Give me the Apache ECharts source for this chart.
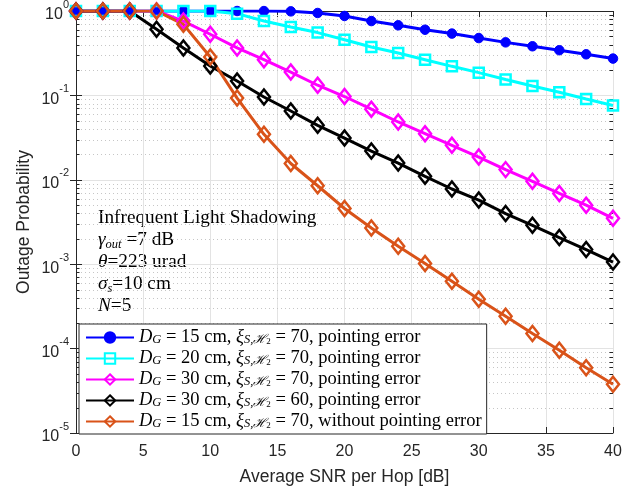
<!DOCTYPE html>
<html>
<head>
<meta charset="utf-8">
<script src="https://cdn.jsdelivr.net/npm/echarts@6/dist/echarts.min.js"></script>
<style>
  html, body { margin: 0; padding: 0; background: #fff; }
  #chart { width: 644px; height: 492px; }
</style>
</head>
<body>
<div id="chart"></div>
<script>
// average SNR per hop [dB]
const snr = [0, 2, 4, 6, 8, 10, 12, 14, 16, 18, 20, 22, 24, 26, 28, 30, 32, 34, 36, 38, 40];

// outage probability
const dg15pe = [1, 1, 1, 1, 1, 1, 1, 0.998, 0.99, 0.947, 0.873, 0.76, 0.677, 0.60, 0.54, 0.478, 0.425, 0.382, 0.343, 0.307, 0.273];
const dg20pe = [1, 1, 1, 1, 1, 1, 0.93, 0.76, 0.645, 0.555, 0.457, 0.375, 0.318, 0.265, 0.221, 0.186, 0.154, 0.129, 0.109, 0.0906, 0.0758];
const dg30pe = [1, 1, 1, 1, 0.76, 0.53, 0.365, 0.265, 0.189, 0.132, 0.097, 0.0686, 0.0484, 0.0352, 0.0256, 0.0186, 0.0132, 0.0096, 0.0069, 0.0050, 0.0035];
const dg30xi60 = [1, 1, 1, 0.607, 0.365, 0.223, 0.148, 0.0958, 0.0653, 0.0442, 0.0312, 0.0219, 0.0158, 0.011, 0.00778, 0.00575, 0.00398, 0.00289, 0.00207, 0.00149, 0.00106];
const dg15nope = [1, 1, 1, 1, 0.695, 0.285, 0.093, 0.0346, 0.0156, 0.0085, 0.00457, 0.00268, 0.00163, 0.00102, 0.000627, 0.000385, 0.000242, 0.000151, 0.0000955, 0.0000593, 0.0000378];

// log axis minor ticks: 2..9 in every decade
const decades = [1e-5, 1e-4, 1e-3, 1e-2, 1e-1];
const minorSteps = [2, 3, 4, 5, 6, 7, 8, 9];

const legendLabels = [
  '{i|D}{sub|G} = 15 cm, {i|ξ}{sub|S,ℋ}{subsub|2} = 70, pointing error',
  '{i|D}{sub|G} = 20 cm, {i|ξ}{sub|S,ℋ}{subsub|2} = 70, pointing error',
  '{i|D}{sub|G} = 30 cm, {i|ξ}{sub|S,ℋ}{subsub|2} = 70, pointing error',
  '{i|D}{sub|G} = 30 cm, {i|ξ}{sub|S,ℋ}{subsub|2} = 60, pointing error',
  '{i|D}{sub|G} = 15 cm, {i|ξ}{sub|S,ℋ}{subsub|2} = 70, without pointing error'
];
const noteLines = [
  'Infrequent Light Shadowing',
  '{i|γ}{sub|out} =7 dB',
  '{i|θ}=223 urad',
  '{i|σ}{sub|s}=10 cm',
  '{i|N}=5'
];

const serif = 'Liberation Serif';
const sans = 'Liberation Sans';
const axisColor = '#262626';

function mkSeries(idx, data, color, symbol, size, filled) {
  return {
    name: 's' + idx,
    type: 'line',
    data: snr.map((x, i) => [x, data[i]]),
    symbol: symbol,
    symbolSize: size,
    showSymbol: true,
    z: 3,
    lineStyle: { color: color, width: 3 },
    itemStyle: filled
      ? { color: color, borderColor: color, borderWidth: 1 }
      : { color: 'rgba(255,255,255,0)', borderColor: color, borderWidth: 2.5 },
    emphasis: { disabled: true },
    animation: false
  };
}

const minorVals = [];
decades.forEach(d => minorSteps.forEach(m => minorVals.push(m * d)));

const richLegend = {
  i: { fontFamily: serif, fontSize: 18.5, fontStyle: 'italic', color: '#000' },
  sub: { fontFamily: serif, fontSize: 12.5, fontStyle: 'italic', color: '#000', verticalAlign: 'bottom', lineHeight: 12 },
  subsub: { fontFamily: serif, fontSize: 9, color: '#000', verticalAlign: 'bottom', lineHeight: 8 }
};

const chart = echarts.init(document.getElementById('chart'));

const logAxisBase = {
  type: 'log',
  logBase: 10,
  min: 1e-5,
  max: 1,
  splitNumber: 5,
  axisLine: { show: true, lineStyle: { color: axisColor, width: 1 } },
  axisTick: { show: true, inside: true, length: 6, lineStyle: { color: axisColor } }
};

chart.setOption({
  backgroundColor: '#fff',
  animation: false,
  grid: { left: 76, right: 31, top: 11, bottom: 59, show: false, outerBoundsMode: 'none' },
  xAxis: [{
    type: 'value',
    min: 0,
    max: 40,
    interval: 5,
    name: 'Average SNR per Hop [dB]',
    nameLocation: 'middle',
    nameGap: 35,
    nameTextStyle: { fontFamily: sans, fontSize: 17.5, color: axisColor },
    axisLine: { show: true, onZero: false, lineStyle: { color: axisColor, width: 1 } },
    axisTick: { show: true, inside: true, length: 6, lineStyle: { color: axisColor } },
    axisLabel: { fontFamily: sans, fontSize: 16, color: axisColor, margin: 11 },
    splitLine: { show: true, lineStyle: { color: '#e3e3e3', width: 1 } }
  }, {
    type: 'value',
    position: 'top',
    min: 0,
    max: 40,
    interval: 5,
    axisLine: { show: true, onZero: false, lineStyle: { color: axisColor, width: 1 } },
    axisTick: { show: true, inside: true, length: 6, lineStyle: { color: axisColor } },
    axisLabel: { show: false },
    splitLine: { show: false }
  }],
  yAxis: [Object.assign({}, logAxisBase, {
    position: 'left',
    name: 'Outage Probability',
    nameLocation: 'middle',
    nameGap: 43,
    nameMoveOverlap: false,
    nameTextStyle: { fontFamily: sans, fontSize: 17.5, color: axisColor },
    axisLabel: {
      fontFamily: sans,
      fontSize: 16,
      color: axisColor,
      margin: 7,
      formatter: function (v) {
        return '{b|10}{s|' + Math.round(Math.log10(v)) + '}';
      },
      rich: {
        b: { fontFamily: sans, fontSize: 16, color: axisColor, lineHeight: 24, verticalAlign: 'bottom' },
        s: { fontFamily: sans, fontSize: 11, color: axisColor, lineHeight: 24, verticalAlign: 'top' }
      }
    },
    splitLine: { show: true, lineStyle: { color: '#e3e3e3', width: 1 } }
  }), Object.assign({}, logAxisBase, {
    position: 'right',
    axisLabel: { show: false },
    splitLine: { show: false }
  })],
  legend: {
    data: ['s0', 's1', 's2', 's3', 's4'],
    orient: 'vertical',
    left: 79,
    top: 324,
    itemWidth: 48,
    itemHeight: 13,
    itemGap: 2,
    padding: [4, 5, 3, 6],
    backgroundColor: '#fff',
    borderColor: axisColor,
    borderWidth: 1,
    borderRadius: 0,
    selectedMode: false,
    formatter: function (name) {
      return legendLabels[Number(name.slice(1))];
    },
    textStyle: {
      fontFamily: serif,
      fontSize: 18.5,
      color: '#000',
      lineHeight: 18,
      rich: richLegend
    }
  },
  graphic: [{
    type: 'text',
    left: 98,
    top: 207,
    silent: true,
    style: {
      text: noteLines.join('\n'),
      fontFamily: serif,
      fontSize: 19.3,
      lineHeight: 22,
      fill: '#000',
      rich: {
        i: { fontFamily: serif, fontSize: 19.3, fontStyle: 'italic', fill: '#000', lineHeight: 22 },
        sub: { fontFamily: serif, fontSize: 12.5, fontStyle: 'italic', fill: '#000', verticalAlign: 'bottom', lineHeight: 14 }
      }
    }
  }],
  series: [
    {
      // minor grid lines and minor ticks of the log axis
      name: 'minor',
      type: 'custom',
      silent: true,
      z: 1,
      clip: false,
      data: minorVals.map(v => [0, v]),
      encode: { x: 0, y: 1 },
      renderItem: function (params, api) {
        const v = api.value(1);
        const p0 = api.coord([0, v]);
        const p1 = api.coord([40, v]);
        const y = Math.round(p0[1]) + 0.5;
        return {
          type: 'group',
          children: [{
            type: 'line',
            shape: { x1: p0[0] + 1, y1: y, x2: p1[0] - 1, y2: y },
            style: { stroke: '#c6c6c6', lineWidth: 1, lineDash: [1, 3] }
          }, {
            type: 'line',
            shape: { x1: p0[0], y1: y, x2: p0[0] + 3.5, y2: y },
            style: { stroke: axisColor, lineWidth: 1 }
          }, {
            type: 'line',
            shape: { x1: p1[0] - 3.5, y1: y, x2: p1[0], y2: y },
            style: { stroke: axisColor, lineWidth: 1 }
          }]
        };
      },
      animation: false
    },
    mkSeries(0, dg15pe, '#0000ff', 'circle', 9.5, true),
    mkSeries(1, dg20pe, '#00ffff', 'rect', 10, false),
    mkSeries(2, dg30pe, '#ff00ff', 'diamond', [12, 15], false),
    mkSeries(3, dg30xi60, '#000000', 'diamond', [12, 15], false),
    mkSeries(4, dg15nope, '#d95319', 'diamond', [12, 15], false)
  ]
});
</script>
</body>
</html>
